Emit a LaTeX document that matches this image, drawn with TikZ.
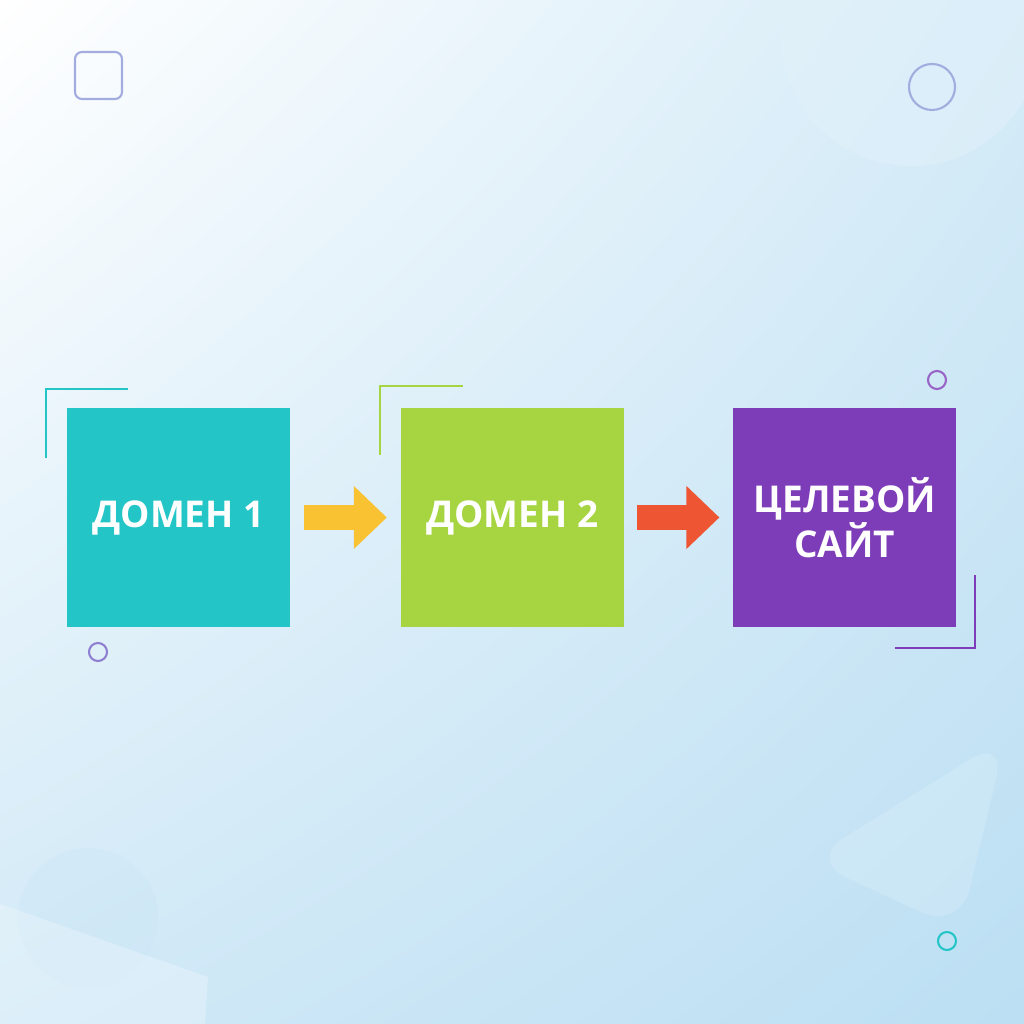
\documentclass[tikz,border=0pt]{standalone}
\usepackage{fontspec}
\newfontfamily\labelfont{Open Sans}
\usetikzlibrary{arrows.meta,positioning,shadings}

\definecolor{tealbox}{HTML}{23C5C7}
\definecolor{greenbox}{HTML}{A7D441}
\definecolor{purplebox}{HTML}{7E3DB8}
\definecolor{yellowarrow}{HTML}{F9C233}
\definecolor{redarrow}{HTML}{EE5533}
\definecolor{lavender}{HTML}{A2ACDF}
\definecolor{lilac}{HTML}{8E7FD0}
\definecolor{bgblue}{HTML}{BCDFF3}

\begin{document}
\begin{tikzpicture}[x=0.01cm,y=0.01cm,
  domain node/.style={rectangle,inner sep=0pt,minimum width=2.23cm,minimum height=2.19cm,
    text=white,align=center,font=\labelfont\bfseries\fontsize{10.5}{12.8}\selectfont},
  flow arrow/.style={line width=0.25cm,-{Triangle[length=0.33cm,width=0.61cm]},
    shorten <=0.13cm,shorten >=0.13cm},
  bracket/.style={line width=0.75pt},
  dot/.style={line width=0.6pt}]

  % background
  \useasboundingbox (0,0) rectangle (1024,1024);
  \shade[upper left=white,upper right=bgblue!62,lower left=bgblue!68,lower right=bgblue]
    (0,0) rectangle (1024,1024);
  \fill[bgblue!45,opacity=0.5] (911,988) circle (130);
  \fill[bgblue!80,opacity=0.3] (88,106) circle (70);
  \fill[white,opacity=0.25] (0,120) -- (208,47) -- (205,0) -- (0,0) -- cycle;
  \fill[white,opacity=0.15,rounded corners=12pt] (1006,287) -- (808,164) -- (960,94) -- cycle;

  % small shapes
  \draw[lavender,dot,rounded corners=2pt] (75,925) rectangle (122,972);
  \draw[lavender,dot] (932,937) circle (23);
  \draw[lilac,dot] (98,372) circle (9);
  \draw[purplebox!80,dot] (937,644) circle (9);
  \draw[tealbox,dot] (947,83) circle (9);

  % boxes
  \node[domain node,fill=tealbox] (d1) at (178.5,506.5) {ДОМЕН 1};
  \node[domain node,fill=greenbox,right=1.09cm of d1] (d2) {ДОМЕН 2};
  \node[domain node,fill=purplebox,right=1.08cm of d2] (site) {ЦЕЛЕВОЙ\\САЙТ};

  % corner marks
  \draw[bracket,tealbox] (46,566) -- (46,635) -- (128,635);
  \draw[bracket,greenbox] (380,569) -- (380,638) -- (463,638);
  \draw[bracket,purplebox] (975,449) -- (975,376) -- (895,376);

  \path
    (d1) edge[flow arrow,yellowarrow] (d2)
    (d2) edge[flow arrow,redarrow] (site);
\end{tikzpicture}
\end{document}
